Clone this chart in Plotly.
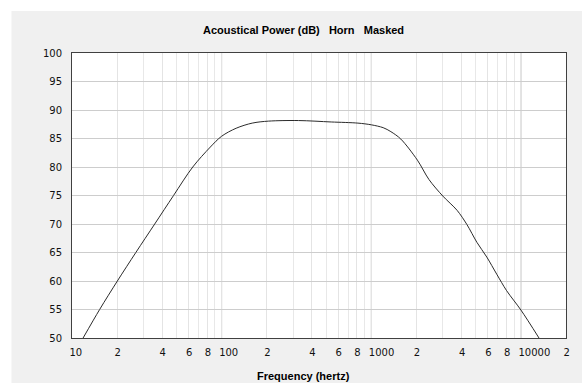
import math
import plotly.graph_objects as go

# ---- data ----
freq_hz = [11.86, 15.3, 20.1, 26.7, 35.7, 47.7, 64.1, 84.0, 100, 125,
           160, 206, 326, 540, 814, 1000, 1200, 1352, 1575, 2033, 2429, 3006, 3743,
           4355, 5073, 5912, 6888, 8023, 10000, 13200]
power_db = [50, 55, 60, 65, 70, 75, 80, 83.5, 85.4, 86.8,
            87.7, 88.05, 88.15, 87.9, 87.7, 87.4, 86.9, 86.2, 84.9, 81.2, 77.8, 74.9, 72.4,
            69.9, 66.8, 64.2, 61.2, 58.3, 54.9, 50]

x_tick_vals = [10, 20, 40, 60, 80, 100, 200, 400, 600, 800, 1000, 2000, 4000, 6000, 8000, 10000, 20000]
x_tick_text = ["10", "2", "4", "6", "8", "100", "2", "4", "6", "8", "1000", "2", "4", "6", "8", "10000", "2"]
decade_vals = [10, 100, 1000, 10000]
y_tick_vals = [50, 55, 60, 65, 70, 75, 80, 85, 90, 95, 100]

title_text = "Acoustical Power (dB)\u00a0\u00a0\u00a0Horn\u00a0\u00a0\u00a0Masked"
x_title = "Frequency (hertz)"

# ---- figure ----
W, H = 582, 383
L, R, T, B = 72, 12, 53, 45
pw, ph = W - L - R, H - T - B

def px_x(p):
    return (p - L) / pw

def px_y(p):
    return (H - B - p) / ph

xr = [1, math.log10(20000)]
tick_font = dict(family="DejaVu Sans", size=10, color="#111111")

fig = go.Figure()
fig.add_trace(go.Scatter(
    x=freq_hz, y=power_db, mode="lines",
    line=dict(color="#2b2b2b", width=1, shape="spline", smoothing=0.9),
    hoverinfo="skip", showlegend=False,
))

shapes = [
    dict(type="rect", xref="paper", yref="paper", x0=-0.3, x1=px_x(11), y0=-0.3, y1=1.4,
         fillcolor="#ffffff", line=dict(width=0), layer="below"),
    dict(type="rect", xref="paper", yref="paper", x0=-0.3, x1=1.3, y0=px_y(11), y1=1.4,
         fillcolor="#ffffff", line=dict(width=0), layer="below"),
]
# darker decade gridlines
for d in decade_vals[1:]:
    shapes.append(dict(type="line", xref="x", yref="paper", x0=d, x1=d, y0=0, y1=1,
                       line=dict(color="#bdbdbd", width=1), layer="between"))

fig.update_layout(
    width=W, height=H,
    margin=dict(l=L, r=R, t=T, b=B, pad=0),
    paper_bgcolor="#f0f0f0",
    plot_bgcolor="#ffffff",
    showlegend=False,
    xaxis=dict(
        type="log", range=xr, tickvals=x_tick_vals, ticktext=x_tick_text, ticks="",
        tickangle=0,
        ticklabelposition="outside right", ticklabelshift=-3, ticklabelstandoff=5,
        tickfont=tick_font,
        showgrid=True, gridcolor="#e4e4e4", gridwidth=1,
        minor=dict(dtick="D1", showgrid=True, gridcolor="#e8e8e8", gridwidth=1, ticks=""),
        showline=True, mirror=True, linecolor="#404040", linewidth=1, zeroline=False,
        fixedrange=True,
    ),
    yaxis=dict(
        range=[50, 100], tickvals=y_tick_vals, ticks="",
        showgrid=True, gridcolor="#cdcdcd", gridwidth=1,
        ticklabelstandoff=7, tickfont=tick_font,
        showline=True, mirror=True, linecolor="#404040", linewidth=1, zeroline=False,
        fixedrange=True,
    ),
    shapes=shapes,
    annotations=[
        dict(text="<b>" + title_text + "</b>", xref="paper", yref="paper",
             x=px_x(305.5), y=px_y(30), xanchor="center", yanchor="middle", showarrow=False,
             font=dict(family="Liberation Sans", size=11, color="#000000")),
        dict(text="<b>" + x_title + "</b>", xref="paper", yref="paper",
             x=px_x(305.5), y=px_y(376), xanchor="center", yanchor="middle", showarrow=False,
             font=dict(family="Liberation Sans", size=11, color="#000000")),
    ],
)

fig.write_html("out.html", config=dict(displayModeBar=False))
